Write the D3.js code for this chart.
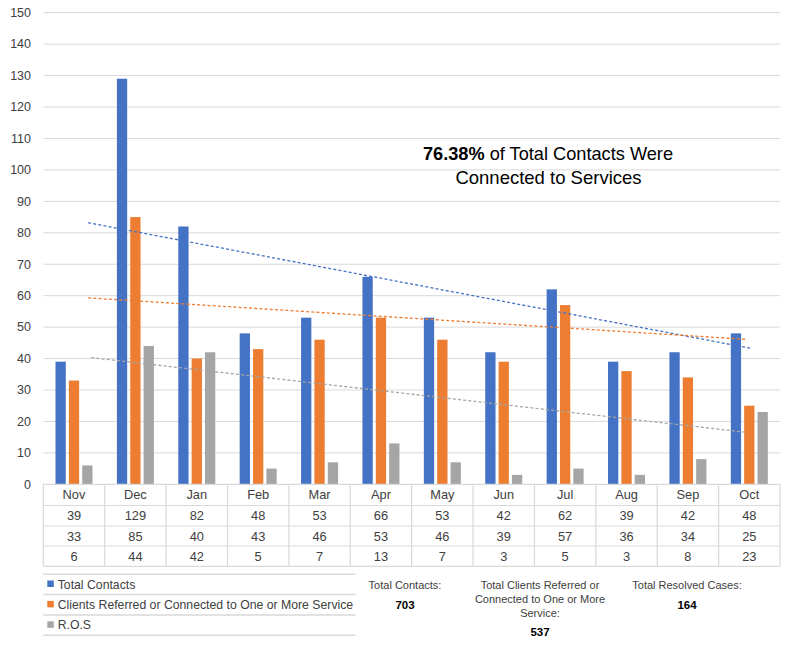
<!DOCTYPE html>
<html><head><meta charset="utf-8">
<script src="https://cdn.jsdelivr.net/npm/d3@7"></script>
<style>
html,body{margin:0;padding:0;background:#fff;}
svg{display:block;font-family:"Liberation Sans",Arial,sans-serif;}
</style></head>
<body>
<svg id="chart" width="785" height="668"></svg>
<script>
// ---- data ----
const months = ["Nov","Dec","Jan","Feb","Mar","Apr","May","Jun","Jul","Aug","Sep","Oct"];
const seriesNames = ["Total Contacts","Clients Referred or Connected to One or More Service","R.O.S"];
const totalContacts = [39,129,82,48,53,66,53,42,62,39,42,48];
const clientsReferred = [33,85,40,43,46,53,46,39,57,36,34,25];
const ros = [6,44,42,5,7,13,7,3,5,3,8,23];
const yTicks = [0,10,20,30,40,50,60,70,80,90,100,110,120,130,140,150];
const trendStart = [83.2,59.3,40.3];
const trendEnd = [43.2,46.1,16.5];
const colors = ["#4472C4","#ED7D31","#A5A5A5"];
const titleBold = "76.38%";
const titleRest = " of Total Contacts Were";
const titleLine2 = "Connected to Services";
const summaryLabels = [["Total Contacts:"],["Total Clients Referred or","Connected to One or More","Service:"],["Total Resolved Cases:"]];
const summaryValues = ["703","537","164"];

const series = [totalContacts, clientsReferred, ros];

const svg = d3.select("#chart");
const left = 43.3, right = 780, y0 = 484.3, yTop = 12.7;
const x = d3.scaleBand().domain(months).range([left, right]).padding(0);
const y = d3.scaleLinear().domain([0,150]).range([y0, yTop]);
const bw = x.bandwidth();
const groupW = 37;
const xs = d3.scaleBand().domain(d3.range(3)).range([(bw-groupW)/2, (bw+groupW)/2]).paddingInner(0.23).paddingOuter(0);
const grid = "#d9d9d9", txt = "#404040";

// gridlines
svg.append("g").selectAll("line").data(yTicks.filter(d=>d>0)).join("line")
  .attr("x1", left).attr("x2", right)
  .attr("y1", d=>y(d)).attr("y2", d=>y(d))
  .attr("stroke", grid).attr("stroke-width", 1);

// y axis labels
svg.append("g").selectAll("text").data(yTicks).join("text")
  .attr("x", 31).attr("y", d=>y(d)+4.3)
  .attr("text-anchor","end").attr("font-size", 12.5).attr("fill", txt)
  .text(d=>d);

// bars
series.forEach((vals, si) => {
  svg.append("g").selectAll("rect").data(vals).join("rect")
    .attr("x", (d,i)=>x(months[i]) + xs(si))
    .attr("width", xs.bandwidth())
    .attr("y", d=>y(d))
    .attr("height", d=>y(0)-y(d))
    .attr("fill", colors[si]);
});

// trendlines
const startFrac = [0.73,0.73,0.78], endFrac = [0.54,0.46,0.46];
series.forEach((vals, si) => {
  svg.append("line")
    .attr("x1", x(months[0]) + bw*startFrac[si])
    .attr("x2", x(months[months.length-1]) + bw*endFrac[si])
    .attr("y1", y(trendStart[si]))
    .attr("y2", y(trendEnd[si]))
    .attr("stroke", colors[si]).attr("stroke-width", 1.3)
    .attr("stroke-dasharray","3,2.2");
});

// data table
const rowY = [y0, 505.5, 526, 546, 566.3];
const tg = svg.append("g");
rowY.forEach(ry => tg.append("line").attr("x1", left).attr("x2", right).attr("y1", ry).attr("y2", ry).attr("stroke", grid).attr("stroke-width",1.2));
months.concat(["_end"]).forEach((m,i) => {
  const xx = i < months.length ? x(m) : right;
  tg.append("line").attr("x1", xx).attr("x2", xx).attr("y1", y0).attr("y2", rowY[4]).attr("stroke", grid).attr("stroke-width",1.2);
});
tg.selectAll("text.m").data(months).join("text").attr("class","m")
  .attr("x", d=>x(d)+bw/2).attr("y", 499)
  .attr("text-anchor","middle").attr("font-size",12.8).attr("fill",txt).text(d=>d);
series.forEach((vals, si) => {
  tg.append("g").selectAll("text").data(vals).join("text")
    .attr("x", (d,i)=>x(months[i])+bw/2).attr("y", 520 + si*20.5)
    .attr("text-anchor","middle").attr("font-size",12.8).attr("fill",txt).text(d=>d);
});

// legend
const lg = svg.append("g");
[574.3, 594.6, 615, 635.3].forEach(ly => lg.append("line").attr("x1", left).attr("x2", 355.5).attr("y1", ly).attr("y2", ly).attr("stroke", grid).attr("stroke-width",1.5));
seriesNames.forEach((n, i) => {
  lg.append("rect").attr("x", 47.3).attr("y", 580.5 + i*20.4).attr("width", 6.5).attr("height", 6.5).attr("fill", colors[i]);
  lg.append("text").attr("x", 57.7).attr("y", 588.5 + i*20.4).attr("font-size", 12.25).attr("fill", txt).text(n);
});

// summaries
const sumX = [405, 540, 687];
summaryLabels.forEach((lines, i) => {
  lines.forEach((l, j) => {
    svg.append("text").attr("x", sumX[i]).attr("y", 589.3 + j*13.7)
      .attr("text-anchor","middle").attr("font-size", 11).attr("fill", txt).text(l);
  });
  svg.append("text").attr("x", sumX[i]).attr("y", lines.length > 1 ? 636 : 609)
    .attr("text-anchor","middle").attr("font-size", 11.5).attr("font-weight","bold").attr("fill","#000").text(summaryValues[i]);
});

// title annotation
const t1 = svg.append("text").attr("x", 548).attr("y", 160).attr("text-anchor","middle").attr("font-size", 18.2).attr("fill","#000");
t1.append("tspan").attr("font-weight","bold").text(titleBold);
t1.append("tspan").text(titleRest);
svg.append("text").attr("x", 548.5).attr("y", 183.5).attr("text-anchor","middle").attr("font-size", 18.5).attr("fill","#000").text(titleLine2);
</script>
</body></html>
